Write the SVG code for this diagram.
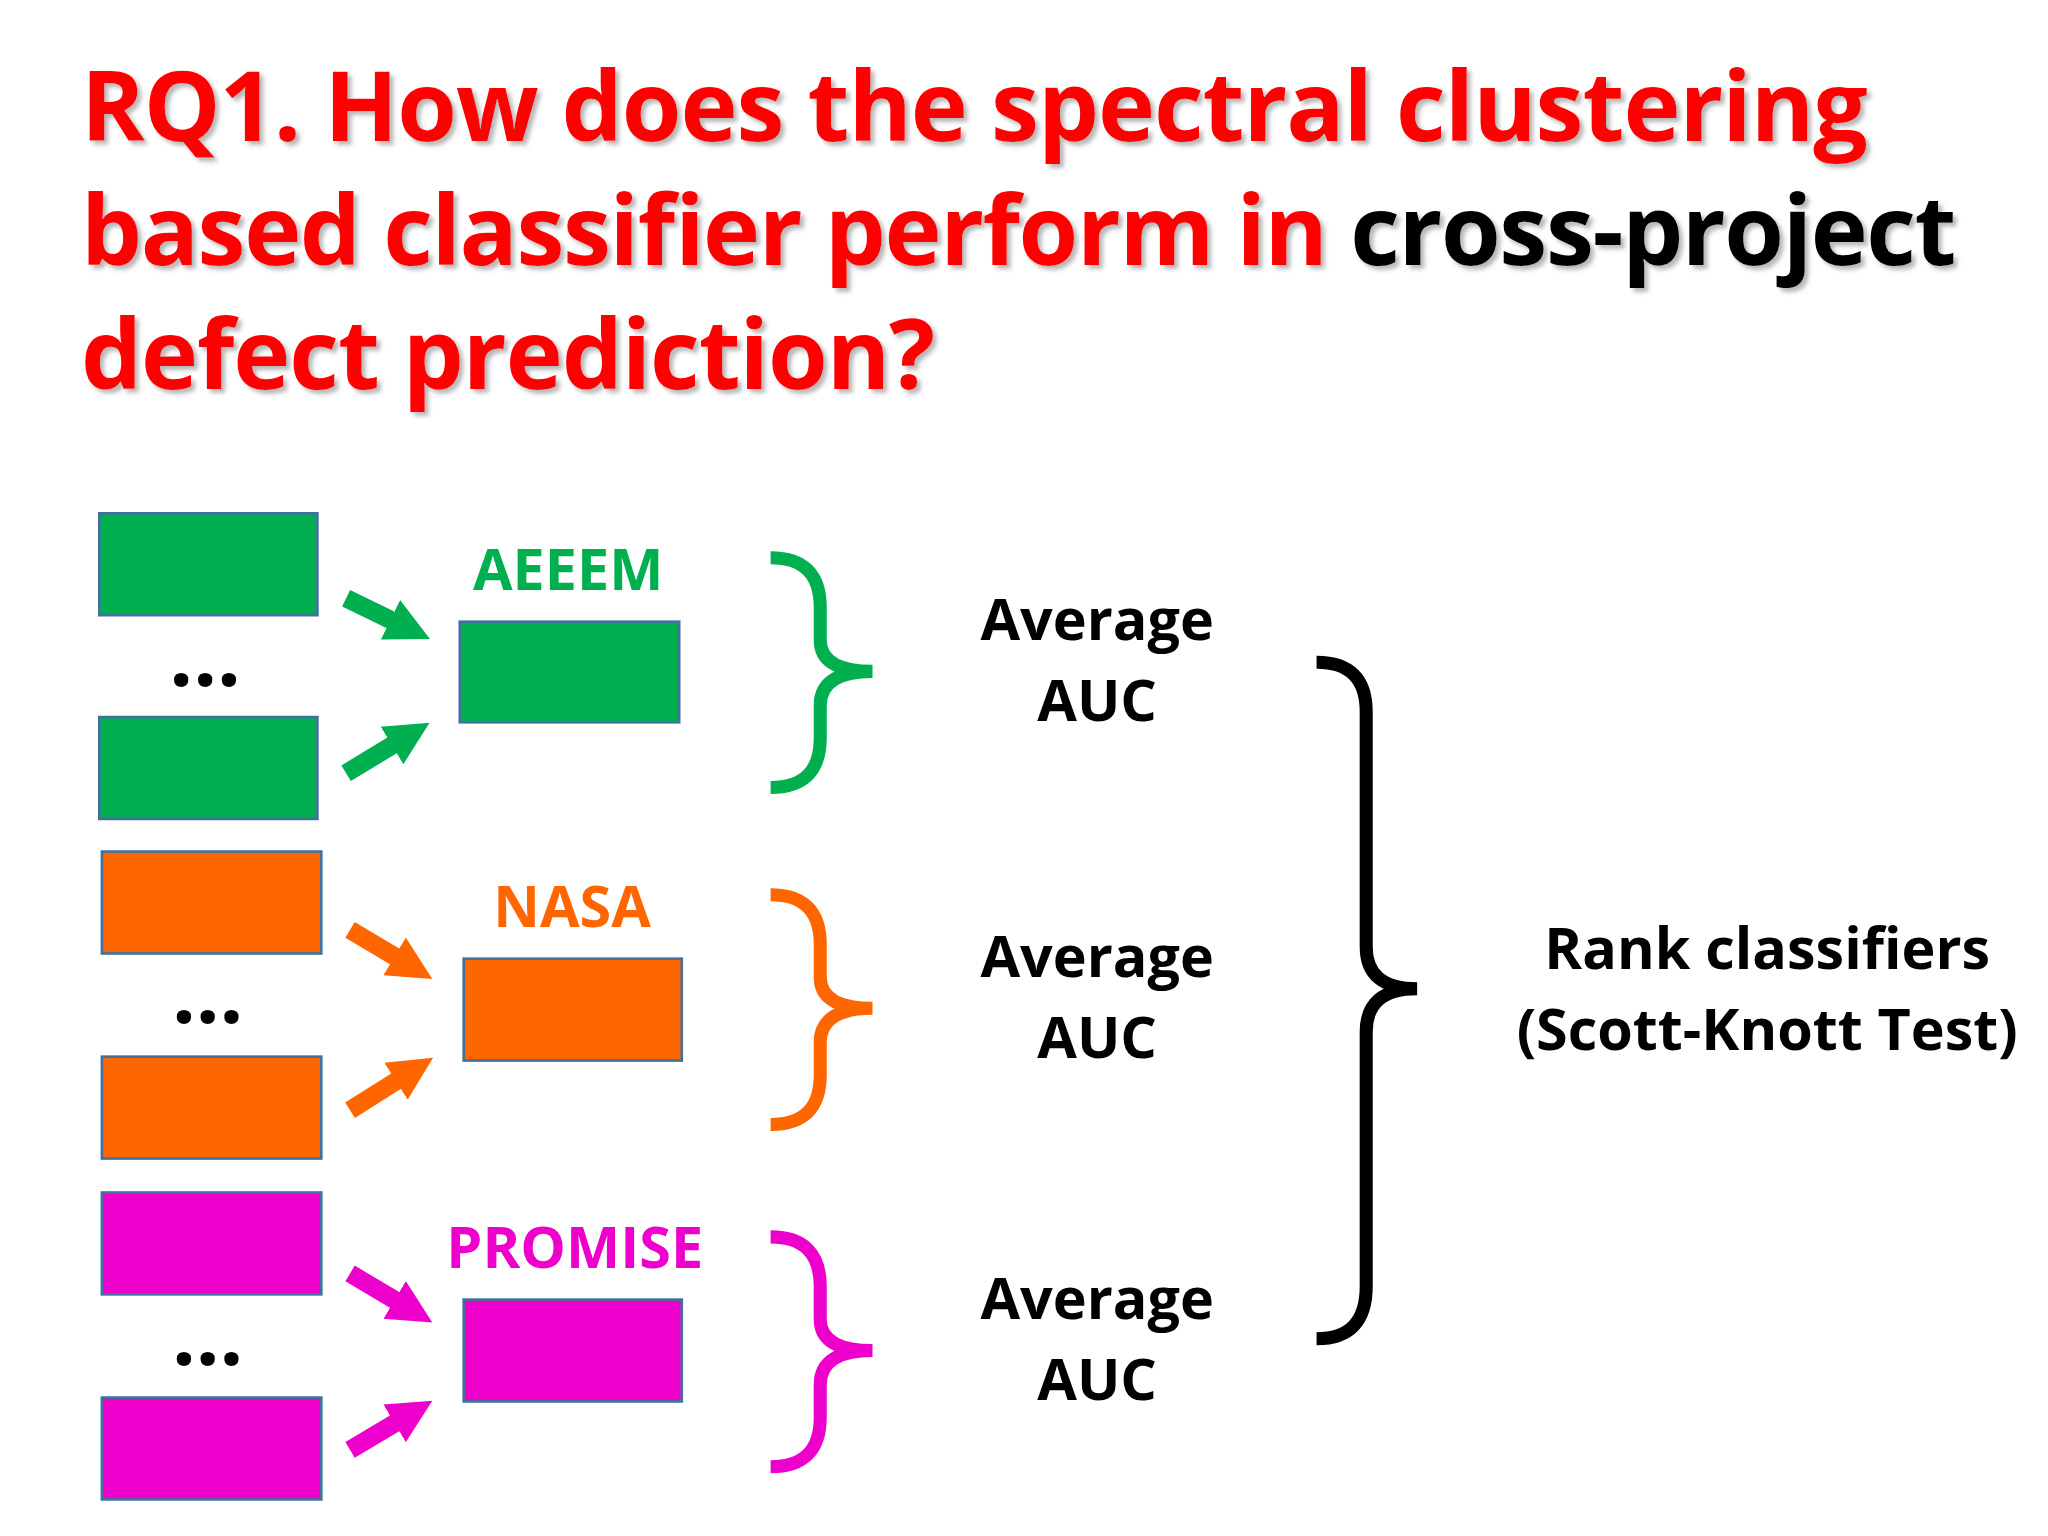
<svg xmlns="http://www.w3.org/2000/svg" width="2048" height="1536" viewBox="0 0 2048 1536">
<defs>
<style>
.t{font-family:"Open Sans","Liberation Sans",sans-serif;font-weight:bold;font-size:74px}
.lab{font-family:"Open Sans","Liberation Sans",sans-serif;font-weight:bold;font-size:44px;text-anchor:middle}
.dots{font-family:"Open Sans","Liberation Sans",sans-serif;font-weight:bold;font-size:64px;text-anchor:middle}
.box{stroke:#41719c;stroke-width:2}
.g{fill:#00b050}.o{fill:#ff6600}.m{fill:#ee00cc}
.br{fill:none;stroke-width:10}
.ar{stroke-width:14;fill:none}
</style>
<filter id="sh" x="-5%" y="-20%" width="110%" height="140%"><feDropShadow dx="3" dy="3" stdDeviation="1.5" flood-color="#888" flood-opacity="0.6"/></filter>
<marker id="hg" viewBox="0 0 10 10" refX="1" refY="5" markerWidth="2.4" markerHeight="2.8" orient="auto"><path d="M0,0L10,5L0,10z" fill="#00b050"/></marker>
<marker id="ho" viewBox="0 0 10 10" refX="1" refY="5" markerWidth="2.4" markerHeight="2.8" orient="auto"><path d="M0,0L10,5L0,10z" fill="#ff6600"/></marker>
<marker id="hm" viewBox="0 0 10 10" refX="1" refY="5" markerWidth="2.4" markerHeight="2.8" orient="auto"><path d="M0,0L10,5L0,10z" fill="#ee00cc"/></marker>
</defs>
<rect width="2048" height="1536" fill="#fff"/>
<g transform="scale(1.30612)">
<g id="title" filter="url(#sh)">
<text class="t" x="62" y="108" fill="#ff0000" textLength="1368" lengthAdjust="spacing">RQ1. How does the spectral clustering</text>
<text class="t" x="62" y="203" textLength="1436" lengthAdjust="spacing"><tspan fill="#ff0000">based classifier perform in </tspan><tspan fill="#000">cross-project</tspan></text>
<text class="t" x="62" y="298" fill="#ff0000" textLength="654" lengthAdjust="spacing">defect prediction?</text>
</g>
<g id="aeeem">
<rect class="box g" x="76" y="393" width="167" height="78"/>
<rect class="box g" x="76" y="549" width="167" height="78"/>
<rect class="box g" x="352" y="476" width="168" height="77"/>
<text class="lab" x="435" y="452" fill="#00b050">AEEEM</text>
<text class="dots" x="157" y="525">...</text>
</g>
<g id="nasa">
<rect class="box o" x="78" y="652" width="168" height="78"/>
<rect class="box o" x="78" y="809" width="168" height="78"/>
<rect class="box o" x="355" y="734" width="167" height="78"/>
<text class="lab" x="438" y="710" fill="#ff6600">NASA</text>
<text class="dots" x="159" y="783">...</text>
</g>
<g id="promise">
<rect class="box m" x="78" y="913" width="168" height="78"/>
<rect class="box m" x="78" y="1070" width="168" height="78"/>
<rect class="box m" x="355" y="995" width="167" height="78"/>
<text class="lab" x="440" y="971" fill="#ee00cc">PROMISE</text>
<text class="dots" x="159" y="1045">...</text>
</g>
<g id="results">
<text class="lab" x="840" y="490">Average</text><text class="lab" x="840" y="552">AUC</text>
<text class="lab" x="840" y="748">Average</text><text class="lab" x="840" y="810">AUC</text>
<text class="lab" x="840" y="1010">Average</text><text class="lab" x="840" y="1072">AUC</text>
<text class="lab" x="1353" y="742">Rank classifiers</text>
<text class="lab" x="1353" y="804">(Scott-Knott Test)</text>
</g>
<g id="connectors">
<line class="ar" stroke="#00b050" x1="265" y1="458" x2="302" y2="476" marker-end="url(#hg)"/>
<line class="ar" stroke="#00b050" x1="265" y1="592" x2="303" y2="569" marker-end="url(#hg)"/>
<line class="ar" stroke="#ff6600" x1="268" y1="712" x2="305" y2="734" marker-end="url(#ho)"/>
<line class="ar" stroke="#ff6600" x1="268" y1="850" x2="306" y2="826" marker-end="url(#ho)"/>
<line class="ar" stroke="#ee00cc" x1="268" y1="975" x2="305" y2="997" marker-end="url(#hm)"/>
<line class="ar" stroke="#ee00cc" x1="268" y1="1110" x2="305" y2="1088" marker-end="url(#hm)"/>
<path class="br" stroke="#00b050" d="M590,427Q628,427 628,465L628,490Q628,514 668,514Q628,514 628,540L628,565Q628,603 590,603"/>
<path class="br" stroke="#ff6600" d="M590,685Q628,685 628,723L628,748Q628,772 668,772Q628,772 628,798L628,823Q628,861 590,861"/>
<path class="br" stroke="#ee00cc" d="M590,947Q628,947 628,985L628,1010Q628,1034 668,1034Q628,1034 628,1060L628,1085Q628,1123 590,1123"/>
<path class="br" stroke="#000" stroke-width="9" d="M1008,507Q1046,507 1046,545L1046,725Q1046,757 1085,757Q1046,757 1046,790L1046,985Q1046,1025 1008,1025"/>
</g>
</g>
</svg>
